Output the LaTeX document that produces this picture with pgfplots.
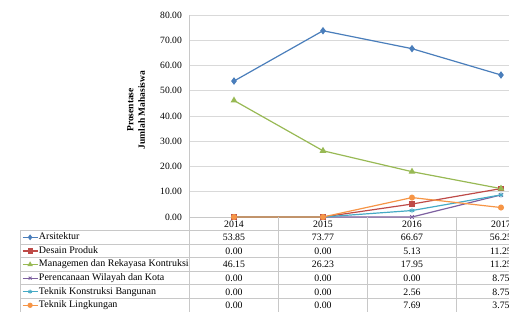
\documentclass[border=0pt]{standalone}
\usepackage{pgfplots}
\pgfplotsset{compat=1.18}
\usepackage{fontspec}
\setmainfont{Liberation Serif}
\definecolor{cA}{HTML}{4A7EBB}
\definecolor{cB}{HTML}{BE4B48}
\definecolor{cC}{HTML}{98B954}
\definecolor{cD}{HTML}{7D60A0}
\definecolor{cE}{HTML}{46AAC5}
\definecolor{cF}{HTML}{F69546}
\definecolor{gridc}{HTML}{D9D9D9}
\definecolor{tabc}{HTML}{C8C8C8}
\begin{document}
\begin{tikzpicture}[font=\fontsize{9.8bp}{11bp}\selectfont]
\begin{axis}[
  at={(189.5bp,95bp)}, anchor=south west,
  width=356bp, height=202bp, scale only axis,
  xmin=-0.5, xmax=3.5, ymin=0, ymax=80,
  clip=false,
  separate axis lines,
  axis x line*=bottom, axis y line*=left,
  axis line style={tabc, line width=0.8bp},
  ytick={0,10,...,80},
  ymajorgrids, grid style={gridc, line width=0.9bp},
  major tick length=0pt,
  /pgf/number format/fixed, /pgf/number format/fixed zerofill,
  /pgf/number format/precision=2, /pgf/number format/assume math mode=true,
  yticklabel style={inner sep=0pt, anchor=east, xshift=-7.5bp, font=\fontsize{9.6bp}{11bp}\selectfont},
  xtick={0,1,2,3}, xticklabels={2014,2015,2016,2017},
  xticklabel style={inner sep=0pt, anchor=base, yshift=-10.3bp, font=\fontsize{9.8bp}{11bp}\selectfont},
  ylabel={Prosentase\\Jumlah Mahasiswa},
  ylabel style={align=center, font=\bfseries\fontsize{9.5bp}{11.5bp}\selectfont, at={(axis description cs:-0.150,0.53)}, anchor=center, rotate=0},
  legend cell align=left,
  legend style={at={(axis description cs:-0.47051,-0.06683)}, anchor=north west, draw=none, fill=none,
    inner sep=0pt, outer sep=0pt, row sep=0pt, font=\fontsize{10bp}{11bp}\selectfont,
    nodes={inner xsep=0.8bp, inner ysep=0pt, text height=6.8bp, text depth=2bp, minimum height=13.6bp}},
  legend image code/.code={\draw[mark repeat=2,mark phase=2, mark size=2bp] plot coordinates {(0bp,0bp)(7.5bp,0bp)(15bp,0bp)};},
  every axis plot/.append style={line width=1.2bp, mark size=2.4bp},
]
\addplot[cA, mark=diamond*, mark size=2.8bp] coordinates {(0,53.85)(1,73.77)(2,66.67)(3,56.25)};
\addlegendentry{Arsitektur}
\addplot[cB, mark=square*, mark size=2.2bp] coordinates {(0,0.00)(1,0.00)(2,5.13)(3,11.25)};
\addlegendentry{Desain Produk}
\addplot[cC, mark=triangle*, mark size=2.8bp] coordinates {(0,46.15)(1,26.23)(2,17.95)(3,11.25)};
\addlegendentry{Managemen dan Rekayasa Kontruksi}
\addplot[cD, mark=x, mark size=2.6bp, mark options={line width=0.9bp}] coordinates {(0,0.00)(1,0.00)(2,0.00)(3,8.75)};
\addlegendentry{Perencanaan Wilayah dan Kota}
\addplot[cE, mark=asterisk, mark size=2.6bp, mark options={line width=0.9bp}] coordinates {(0,0.00)(1,0.00)(2,2.56)(3,8.75)};
\addlegendentry{Teknik Konstruksi Bangunan}
\addplot[cF, mark=*, mark size=2.4bp] coordinates {(0,0.00)(1,0.00)(2,7.69)(3,3.75)};
\addlegendentry{Teknik Lingkungan}
\end{axis}
% data table grid
\begin{scope}[tabc, line width=0.8bp]
  \foreach \yy in {81.5,67.9,54.3,40.7,27.1,13.5,-0.1} \draw (20bp,\yy bp) -- (545.5bp,\yy bp);
  \draw (20bp,81.5bp) -- (20bp,-0.1bp);
  \foreach \xx in {189.5,278.5,367.5,456.5,545.5} \draw (\xx bp,95bp) -- (\xx bp,-0.1bp);
\end{scope}
% data table values
\foreach \yc/\a/\b/\c/\d in {74.7/53.85/73.77/66.67/56.25, 61.1/0.00/0.00/5.13/11.25, 47.5/46.15/26.23/17.95/11.25, 33.9/0.00/0.00/0.00/8.75, 20.3/0.00/0.00/2.56/8.75, 6.7/0.00/0.00/7.69/3.75}{
  \node[anchor=base, inner sep=0pt] at (234bp,\yc bp-3.3bp) {\a};
  \node[anchor=base, inner sep=0pt] at (323bp,\yc bp-3.3bp) {\b};
  \node[anchor=base, inner sep=0pt] at (412bp,\yc bp-3.3bp) {\c};
  \node[anchor=base, inner sep=0pt] at (501bp,\yc bp-3.3bp) {\d};
}
\pgfresetboundingbox
\useasboundingbox (0,0) rectangle (509bp,312bp);
\end{tikzpicture}
\end{document}
